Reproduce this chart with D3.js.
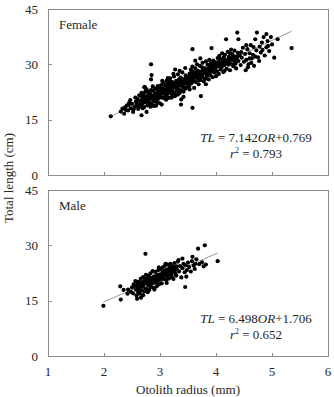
<!DOCTYPE html>
<html>
<head>
<meta charset="utf-8">
<script src="https://cdnjs.cloudflare.com/ajax/libs/d3/7.8.5/d3.min.js"></script>
<style>
  body { margin: 0; background: #fff; }
  text { font-family: "Liberation Serif", "Times New Roman", serif; fill: #262626; }
</style>
</head>
<body>
<div id="chart"></div>
<script>
var xTicks = [1, 2, 3, 4, 5, 6];
var yTicks = [0, 15, 30, 45];

var panelNames = ["Female", "Male"];
var slopes = [7.142, 6.498];
var intercepts = [0.769, 1.706];
var rSquared = ["0.793", "0.652"];
var lineRanges = [[2.12, 5.35], [1.99, 4.03]];

// [otolith radius (mm), total length (cm)]
var femalePoints = [
  [2.12,15.9],[2.36,16.6],[2.38,18.4],[2.43,17.5],[2.52,17.1],[2.67,16.2],[2.76,17.1],[2.3,17.2],[2.41,18.9],[2.45,19.6],
  [2.48,18.1],[2.5,19.3],[2.33,18.0],[2.55,18.5],[2.57,19.9],[2.47,20.3],[2.53,17.8],[2.58,18.9],[2.6,20.6],[2.62,19.4],
  [2.56,21.0],[2.44,19.0],[2.39,17.6],[2.61,17.9],[2.64,18.6],
  [2.65,20.1],[2.66,21.4],[2.68,19.0],[2.7,20.5],[2.71,22.0],[2.72,18.4],[2.73,23.8],[2.74,19.7],[2.75,21.2],[2.76,20.0],
  [2.77,22.6],[2.78,18.9],[2.79,21.7],[2.8,20.3],[2.81,19.5],[2.82,22.2],[2.83,20.9],[2.84,23.0],[2.85,19.2],[2.86,21.5],
  [2.87,20.6],[2.88,22.8],[2.89,18.7],[2.9,21.0],[2.91,23.4],[2.92,20.2],[2.93,22.1],[2.94,19.8],[2.95,21.8],[2.96,24.1],
  [2.97,20.7],[2.98,22.5],[2.99,19.5],[3.0,21.3],[2.67,22.3],[2.69,18.1],[2.72,20.9],[2.76,23.2],[2.8,21.9],[2.83,18.5],
  [2.87,24.0],[2.9,19.9],[2.94,23.3],[2.97,21.5],[2.85,27.1],[2.84,25.9],[2.84,30.0],[2.72,23.8],[2.63,21.6],[2.78,20.6],
  [2.82,21.1],[2.88,20.0],[2.92,21.6],[2.96,22.8],[2.99,23.6],[2.74,22.7],[2.7,19.6],[2.66,18.9],[2.93,18.8],[3.03,19.1],
  [3.01,22.9],[3.02,24.4],[3.03,21.0],[3.04,23.5],[3.05,22.1],[3.06,25.0],[3.07,20.8],[3.08,23.1],[3.09,24.2],[3.1,22.5],
  [3.11,21.6],[3.12,25.6],[3.13,23.8],[3.14,22.0],[3.15,24.7],[3.16,20.9],[3.17,23.3],[3.18,26.2],[3.19,22.7],[3.2,24.0],
  [3.21,21.9],[3.22,25.2],[3.23,23.6],[3.24,22.4],[3.25,26.7],[3.26,24.5],[3.27,21.4],[3.28,23.9],[3.29,25.5],[3.3,22.8],
  [3.31,24.9],[3.32,27.3],[3.33,23.2],[3.34,25.9],[3.35,22.2],[3.36,24.3],[3.37,26.4],[3.38,23.0],[3.39,25.1],[3.4,27.8],
  [3.41,24.0],[3.42,22.6],[3.43,26.0],[3.44,24.8],[3.45,23.4],[3.46,27.0],[3.47,25.3],[3.48,23.7],[3.49,26.6],[3.5,24.5],
  [3.375,19.1],[3.58,18.2],[3.02,22.0],[3.06,23.2],[3.09,21.3],[3.13,24.9],[3.16,23.0],[3.19,24.6],[3.22,23.1],[3.25,22.0],
  [3.28,25.0],[3.31,23.5],[3.34,24.2],[3.37,25.3],[3.4,25.0],[3.43,23.8],[3.46,25.9],[3.49,24.9],[3.04,25.5],[3.14,26.3],
  [3.24,27.4],[3.35,28.2],[3.45,29.0],[3.11,20.4],[3.21,21.0],[3.32,21.8],[3.42,21.2],[3.27,28.6],[3.38,20.5],[3.18,25.4],
  [3.51,26.3],[3.52,24.0],[3.53,27.5],[3.54,25.5],[3.55,28.6],[3.56,24.8],[3.57,26.9],[3.58,29.4],[3.59,25.9],[3.6,27.8],
  [3.61,23.6],[3.62,26.4],[3.63,28.9],[3.64,25.2],[3.65,27.2],[3.66,30.0],[3.67,26.1],[3.68,28.2],[3.69,24.6],[3.7,27.0],
  [3.71,29.6],[3.72,25.8],[3.73,21.4],[3.74,28.0],[3.75,26.6],[3.76,30.4],[3.77,27.4],[3.78,25.4],[3.79,29.0],[3.8,27.9],
  [3.81,26.2],[3.82,30.8],[3.83,28.5],[3.84,26.9],[3.85,29.9],[3.86,27.6],[3.87,25.9],[3.88,31.2],[3.89,28.8],[3.9,27.1],
  [3.91,30.3],[3.92,34.4],[3.93,28.3],[3.94,26.5],[3.95,31.0],[3.96,29.4],[3.97,27.8],[3.98,30.6],[3.99,28.9],[4.0,26.8],
  [3.58,34.1],[3.55,26.0],[3.6,25.4],[3.65,28.0],[3.7,25.7],[3.75,29.2],[3.8,26.0],[3.85,27.3],[3.9,29.3],[3.95,28.0],
  [3.53,23.2],[3.63,31.0],[3.72,31.6],[3.82,24.6],[3.62,27.3],[3.68,26.9],[3.78,28.5],[3.88,28.0],[3.97,30.0],[3.57,28.1],
  [4.01,30.5],[4.02,28.0],[4.03,31.7],[4.04,29.5],[4.05,27.4],[4.06,32.3],[4.07,30.1],[4.08,28.6],[4.09,31.4],[4.1,29.2],
  [4.11,33.0],[4.12,30.8],[4.13,27.9],[4.14,31.9],[4.15,29.8],[4.16,32.6],[4.17,30.3],[4.18,36.8],[4.19,28.8],[4.2,31.2],
  [4.21,33.4],[4.22,29.9],[4.23,32.0],[4.24,30.6],[4.25,28.4],[4.26,31.6],[4.27,34.0],[4.28,30.0],[4.29,32.8],[4.3,32.3],
  [4.31,29.5],[4.32,31.0],[4.33,33.7],[4.34,30.4],[4.35,32.1],[4.36,28.9],[4.37,31.5],[4.38,38.6],[4.39,33.1],[4.4,30.9],
  [4.42,32.4],[4.44,29.8],[4.46,31.8],[4.48,34.5],[4.5,30.7],[4.05,30.6],[4.15,28.2],[4.25,33.0],[4.35,30.2],[4.45,33.3],
  [4.52,32.8],[4.54,31.2],[4.56,34.1],[4.58,30.0],[4.6,33.0],[4.62,35.2],[4.64,31.6],[4.66,32.6],[4.68,29.6],[4.7,36.8],
  [4.72,33.8],[4.73,38.6],[4.75,31.9],[4.78,34.8],[4.8,33.2],[4.82,35.9],[4.85,37.4],[4.87,32.4],[4.9,34.6],[4.92,36.3],
  [4.95,33.6],[4.98,37.4],[5.0,35.4],[5.04,31.8],[5.1,36.8],[5.35,34.4],[4.57,29.2],[4.63,30.4],[4.67,34.7],[4.77,30.9],
  [4.83,33.9],[4.6,31.6],[4.7,32.1],[4.93,35.0],[4.53,28.4],[4.9,38.2],[4.54,35.2],[4.4,36.8],
  [2.62,19.0],[2.68,20.4],[2.74,20.7],[2.79,20.2],[2.86,20.9],[2.91,21.9],[2.95,20.8],[3.0,22.6],[3.05,23.0],[3.08,22.3],
  [3.12,23.0],[3.15,23.9],[3.18,23.4],[3.21,24.3],[3.25,24.6],[3.29,23.6],[3.32,24.6],[3.36,25.6],[3.39,24.2],[3.42,25.5],
  [3.45,25.0],[3.48,26.1],[3.52,25.4],[3.55,27.0],[3.58,26.2],[3.61,27.0],[3.64,26.6],[3.67,27.6],[3.71,26.7],[3.74,27.3],
  [3.77,28.6],[3.8,28.8],[3.83,27.5],[3.86,28.9],[3.89,29.8],[3.92,28.6],[3.96,30.2],[4.0,29.6],[4.04,30.0],[4.08,29.6],
  [4.12,29.9],[4.16,31.0],[4.2,30.3],[4.24,31.4],[4.28,31.3],[4.33,31.9],[4.38,32.0],[2.58,19.6],[2.71,21.2],[2.83,21.6],
  [3.03,22.4],[3.27,24.9],[3.49,25.6],[3.69,27.9],[3.93,29.7],[4.11,30.3]
];

var malePoints = [
  [1.99,13.6],[2.29,18.9],[2.30,15.3],[2.43,18.0],[2.74,27.7],[2.59,15.5],[3.12,19.8],[3.45,18.7],[3.40,26.4],[3.58,26.9],
  [3.68,29.1],[3.80,30.0],[3.82,24.8],[4.03,25.7],[2.35,17.9],[2.48,17.4],[2.5,18.6],[2.52,17.0],[2.55,19.0],[2.57,18.0],
  [2.58,16.4],[2.6,19.6],[2.61,17.3],[2.62,20.2],[2.63,18.5],[2.64,16.9],[2.65,19.3],[2.66,21.0],[2.67,17.8],[2.68,20.0],
  [2.69,18.8],[2.7,21.4],[2.71,19.5],[2.72,17.5],[2.73,20.6],[2.74,18.3],[2.75,22.0],[2.76,19.8],[2.77,18.0],[2.78,20.9],
  [2.79,19.1],[2.8,21.7],[2.81,17.9],[2.82,20.3],[2.83,22.4],[2.84,18.7],[2.85,21.1],[2.86,19.6],[2.87,23.0],[2.88,20.5],
  [2.89,18.4],[2.9,21.6],[2.91,19.9],[2.92,22.8],[2.93,20.8],[2.94,18.9],[2.95,21.9],[2.96,20.2],[2.97,23.3],[2.98,19.4],
  [2.99,22.1],[3.0,20.7],[3.01,23.6],[3.02,21.3],[3.03,19.7],[3.04,22.6],[3.05,24.0],[3.06,20.9],[3.07,23.0],[3.08,21.8],
  [3.09,24.5],[3.1,22.3],[3.11,20.6],[3.12,23.4],[3.13,21.5],[3.14,24.8],[3.15,22.7],[3.16,21.0],[3.17,23.9],[3.18,22.2],
  [3.19,25.0],[3.2,23.2],[3.21,21.4],[3.22,24.3],[3.23,22.8],[3.24,20.9],[3.25,23.7],[3.26,25.2],[3.27,22.5],[3.28,24.0],
  [3.29,21.8],[3.3,23.5],[3.32,25.6],[3.34,22.9],[3.36,24.4],[3.38,21.3],[3.4,23.8],[3.42,25.0],[3.44,22.7],[3.46,24.6],
  [3.48,23.3],[3.5,25.3],[3.52,24.1],[3.55,22.9],[3.57,25.7],[3.6,24.5],[3.62,23.6],[3.65,26.2],[3.7,24.9],[3.75,25.4],
  [2.56,20.3],[2.62,18.0],[2.68,19.0],[2.72,20.0],[2.76,21.0],[2.8,19.5],[2.84,20.0],[2.88,21.4],[2.92,20.0],[2.96,21.0],
  [3.0,22.0],[3.04,21.0],[3.08,22.8],[3.12,22.0],[3.16,23.3],[3.2,21.9],[3.24,24.0],[3.28,22.0],[2.66,15.8],[2.78,17.3],
  [2.9,18.0],[2.7,16.5],[2.6,18.8],[2.53,19.4],[2.98,24.0],[3.1,25.0],[3.33,26.0],[3.47,21.5],[3.63,25.0],[3.78,24.3],
  [2.42,16.9],[2.64,19.8],[2.7,19.2],[2.75,20.4],[2.8,20.6],[2.86,21.0],[2.9,20.4],[2.95,21.2],[3.0,21.4],[3.05,22.0],
  [3.1,22.8],[3.15,22.2],[3.2,22.6],[3.26,23.4],[3.3,24.3],[2.82,19.0],[2.94,20.0],[3.06,21.6],[3.18,23.8]
];

var panelData = [femalePoints, malePoints];

var svgWidth = 334;
var svgHeight = 397;
var plotLeft = 48;
var plotRight = 328;
var panelTops = [9, 190];
var panelBottoms = [175, 356];

var svg = d3.select("#chart")
  .append("svg")
  .attr("width", svgWidth)
  .attr("height", svgHeight);

var xScale = d3.scaleLinear()
  .domain([1, 6])
  .range([plotLeft, plotRight]);

panelNames.forEach(function(name, i) {
  var yScale = d3.scaleLinear()
    .domain([0, 45])
    .range([panelBottoms[i], panelTops[i]]);

  var g = svg.append("g");

  // frame
  g.append("rect")
    .attr("x", plotLeft + 0.5)
    .attr("y", panelTops[i] + 0.5)
    .attr("width", plotRight - plotLeft)
    .attr("height", panelBottoms[i] - panelTops[i])
    .attr("fill", "none")
    .attr("stroke", "#8c8c8c")
    .attr("stroke-width", 1);

  // inward ticks
  g.selectAll(".xtick")
    .data(xTicks.slice(1, -1))
    .enter()
    .append("line")
    .attr("x1", d => Math.round(xScale(d)) + 0.5)
    .attr("x2", d => Math.round(xScale(d)) + 0.5)
    .attr("y1", panelBottoms[i] + 0.5)
    .attr("y2", panelBottoms[i] - 3)
    .attr("stroke", "#8c8c8c");

  g.selectAll(".ytick")
    .data(yTicks.slice(1, -1))
    .enter()
    .append("line")
    .attr("x1", plotLeft + 0.5)
    .attr("x2", plotLeft + 4)
    .attr("y1", d => Math.round(yScale(d)) + 0.5)
    .attr("y2", d => Math.round(yScale(d)) + 0.5)
    .attr("stroke", "#8c8c8c");

  g.selectAll(".ylabel")
    .data(yTicks)
    .enter()
    .append("text")
    .attr("x", plotLeft - 10)
    .attr("y", d => yScale(d))
    .attr("dy", "0.35em")
    .attr("text-anchor", "end")
    .style("font-size", "13px")
    .text(d => d);

  // regression line
  g.append("line")
    .attr("x1", xScale(lineRanges[i][0]))
    .attr("y1", yScale(slopes[i] * lineRanges[i][0] + intercepts[i]))
    .attr("x2", xScale(lineRanges[i][1]))
    .attr("y2", yScale(slopes[i] * lineRanges[i][1] + intercepts[i]))
    .attr("stroke", "#9a9a9a")
    .attr("stroke-width", 1);

  g.selectAll("circle")
    .data(panelData[i])
    .enter()
    .append("circle")
    .attr("cx", d => xScale(d[0]))
    .attr("cy", d => yScale(d[1]))
    .attr("r", 2.1)
    .attr("fill", "#000");

  g.append("text")
    .attr("x", plotLeft + 11)
    .attr("y", panelTops[i] + 20)
    .style("font-size", "13px")
    .text(name);

  var eq = g.append("text")
    .attr("x", 256)
    .attr("y", panelBottoms[i] - 33)
    .attr("text-anchor", "middle")
    .style("font-size", "13px");
  eq.append("tspan").style("font-style", "italic").text("TL");
  eq.append("tspan").text(" = " + slopes[i].toFixed(3));
  eq.append("tspan").style("font-style", "italic").text("OR");
  eq.append("tspan").text("+" + intercepts[i].toFixed(3));

  var r2 = g.append("text")
    .attr("x", 256)
    .attr("y", panelBottoms[i] - 17)
    .attr("text-anchor", "middle")
    .style("font-size", "13px");
  r2.append("tspan").style("font-style", "italic").text("r");
  r2.append("tspan").attr("dy", -5).style("font-size", "8px").text("2");
  r2.append("tspan").attr("dy", 5).text(" = " + rSquared[i]);
});

svg.selectAll(".xlabel")
  .data(xTicks)
  .enter()
  .append("text")
  .attr("x", d => xScale(d))
  .attr("y", 376)
  .attr("text-anchor", "middle")
  .style("font-size", "13px")
  .text(d => d);

svg.append("text")
  .attr("x", (plotLeft + plotRight) / 2)
  .attr("y", 394)
  .attr("text-anchor", "middle")
  .style("font-size", "13px")
  .text("Otolith radius (mm)");

svg.append("text")
  .attr("transform", "translate(13, 178) rotate(-90)")
  .attr("text-anchor", "middle")
  .style("font-size", "13px")
  .text("Total length (cm)");
</script>
</body>
</html>
